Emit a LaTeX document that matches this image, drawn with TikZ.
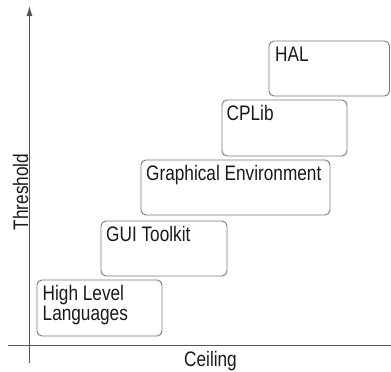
\documentclass[tikz,border=0pt]{standalone}
\usepackage{fontspec}
\setmainfont[FakeStretch=0.82]{Liberation Sans}
\usetikzlibrary{arrows.meta}
\definecolor{boxgray}{HTML}{7A7A7A}
\definecolor{axisgray}{HTML}{555555}
\definecolor{txt}{HTML}{1A1A1A}
\begin{document}
\begin{tikzpicture}[x=1pt,y=-1pt,
  layer/.style={draw=boxgray,line width=0.9pt,rounded corners=5pt,fill=white},
  lbl/.style={anchor=base west,inner sep=0pt,text=txt,font=\fontsize{21}{20}\selectfont,align=left},
  axis/.style={draw=axisgray,line width=0.9pt}]
\useasboundingbox (0,0) rectangle (391,372);
% axes
\coordinate (yb) at (29.5,363);
\coordinate (yt) at (29.5,6);
\coordinate (xl) at (8,345);
\coordinate (xr) at (391,345);
\draw[axis,-{Latex[length=10pt,width=6pt]}] (yb) -- (yt);
\draw[axis] (xl) -- (xr);
\node[lbl,rotate=90] (th) at (28,192) [anchor=base] {Threshold};
\node[lbl,anchor=base] (ce) at (210.5,366.5) {Ceiling};
% boxes
\draw[layer] (269,41) rectangle (389.5,96) coordinate (halbr);
\coordinate (hal) at (269,41);
\draw[layer] (222,100) rectangle (347,156);
\coordinate (cpl) at (222,100);
\draw[layer] (141,160) rectangle (330,215);
\coordinate (gen) at (141,160);
\draw[layer] (101,221) rectangle (227,276);
\coordinate (gui) at (101,221);
\draw[layer] (37,280) rectangle (162,336);
\coordinate (hll) at (37,280);
\node[lbl] (halt) at ([shift={(6,20)}]hal) {HAL};
\node[lbl] (cplt) at ([shift={(4.5,20)}]cpl) {CPLib};
\node[lbl] (gent) at ([shift={(5,20)}]gen) {Graphical Environment};
\node[lbl] (guit) at ([shift={(5,20)}]gui) {GUI Toolkit};
\node[lbl] (hllt) at ([shift={(5.5,40)}]hll) {High Level\\Languages};
\end{tikzpicture}
\end{document}
